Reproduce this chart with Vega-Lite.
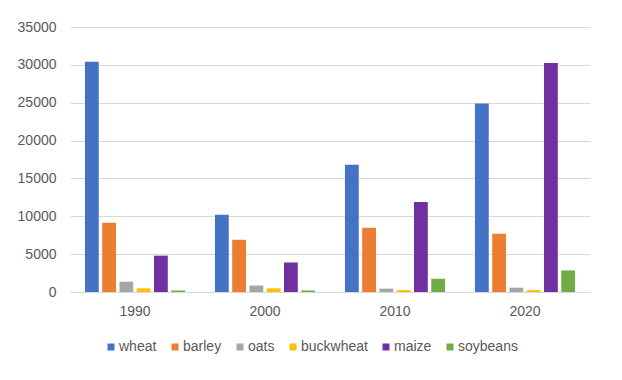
{
  "$schema": "https://vega.github.io/schema/vega-lite/v6.json",
  "width": 520,
  "height": 265,
  "autosize": {"type": "none"},
  "padding": {"left": 70, "top": 27, "right": 32, "bottom": 88},
  "background": "white",
  "data": {
    "values": [
      {"year": "1990", "crop": "wheat", "value": 30400},
      {"year": "1990", "crop": "barley", "value": 9150},
      {"year": "1990", "crop": "oats", "value": 1360},
      {"year": "1990", "crop": "buckwheat", "value": 480},
      {"year": "1990", "crop": "maize", "value": 4800},
      {"year": "1990", "crop": "soybeans", "value": 200},
      {"year": "2000", "crop": "wheat", "value": 10200},
      {"year": "2000", "crop": "barley", "value": 6900},
      {"year": "2000", "crop": "oats", "value": 850},
      {"year": "2000", "crop": "buckwheat", "value": 480},
      {"year": "2000", "crop": "maize", "value": 3900},
      {"year": "2000", "crop": "soybeans", "value": 200},
      {"year": "2010", "crop": "wheat", "value": 16800},
      {"year": "2010", "crop": "barley", "value": 8500},
      {"year": "2010", "crop": "oats", "value": 440},
      {"year": "2010", "crop": "buckwheat", "value": 250},
      {"year": "2010", "crop": "maize", "value": 11900},
      {"year": "2010", "crop": "soybeans", "value": 1750},
      {"year": "2020", "crop": "wheat", "value": 24900},
      {"year": "2020", "crop": "barley", "value": 7700},
      {"year": "2020", "crop": "oats", "value": 570},
      {"year": "2020", "crop": "buckwheat", "value": 250},
      {"year": "2020", "crop": "maize", "value": 30250},
      {"year": "2020", "crop": "soybeans", "value": 2850}
    ]
  },
  "mark": {"type": "bar"},
  "encoding": {
    "x": {
      "field": "year",
      "type": "nominal",
      "scale": {"paddingInner": 0.23, "paddingOuter": 0.115},
      "axis": {
        "title": null,
        "labelAngle": 0,
        "ticks": false,
        "domainColor": "#D9D9D9",
        "labelPadding": 12,
        "labelFont": "Liberation Sans",
        "labelFontSize": 14,
        "labelColor": "#595959"
      }
    },
    "xOffset": {
      "field": "crop",
      "type": "nominal",
      "sort": ["wheat", "barley", "oats", "buckwheat", "maize", "soybeans"],
      "scale": {"paddingInner": 0.2}
    },
    "y": {
      "field": "value",
      "type": "quantitative",
      "scale": {"domain": [0, 35000], "nice": false},
      "axis": {
        "title": null,
        "values": [0, 5000, 10000, 15000, 20000, 25000, 30000, 35000],
        "format": "d",
        "domain": false,
        "ticks": false,
        "gridColor": "#D9D9D9",
        "labelPadding": 14,
        "labelFont": "Liberation Sans",
        "labelFontSize": 14,
        "labelColor": "#595959"
      }
    },
    "color": {
      "field": "crop",
      "type": "nominal",
      "sort": ["wheat", "barley", "oats", "buckwheat", "maize", "soybeans"],
      "scale": {
        "domain": ["wheat", "barley", "oats", "buckwheat", "maize", "soybeans"],
        "range": ["#4472C4", "#ED7D31", "#A5A5A5", "#FFC000", "#7030A0", "#70AD47"]
      },
      "legend": {
        "title": null,
        "orient": "none",
        "legendX": 34,
        "legendY": 313,
        "direction": "horizontal",
        "padding": 0,
        "symbolType": "square",
        "symbolSize": 49,
        "symbolStrokeWidth": 0,
        "labelFont": "Liberation Sans",
        "labelFontSize": 14,
        "labelColor": "#595959",
        "labelOffset": 1,
        "columnPadding": 11
      }
    }
  },
  "config": {"view": {"stroke": null}}
}
